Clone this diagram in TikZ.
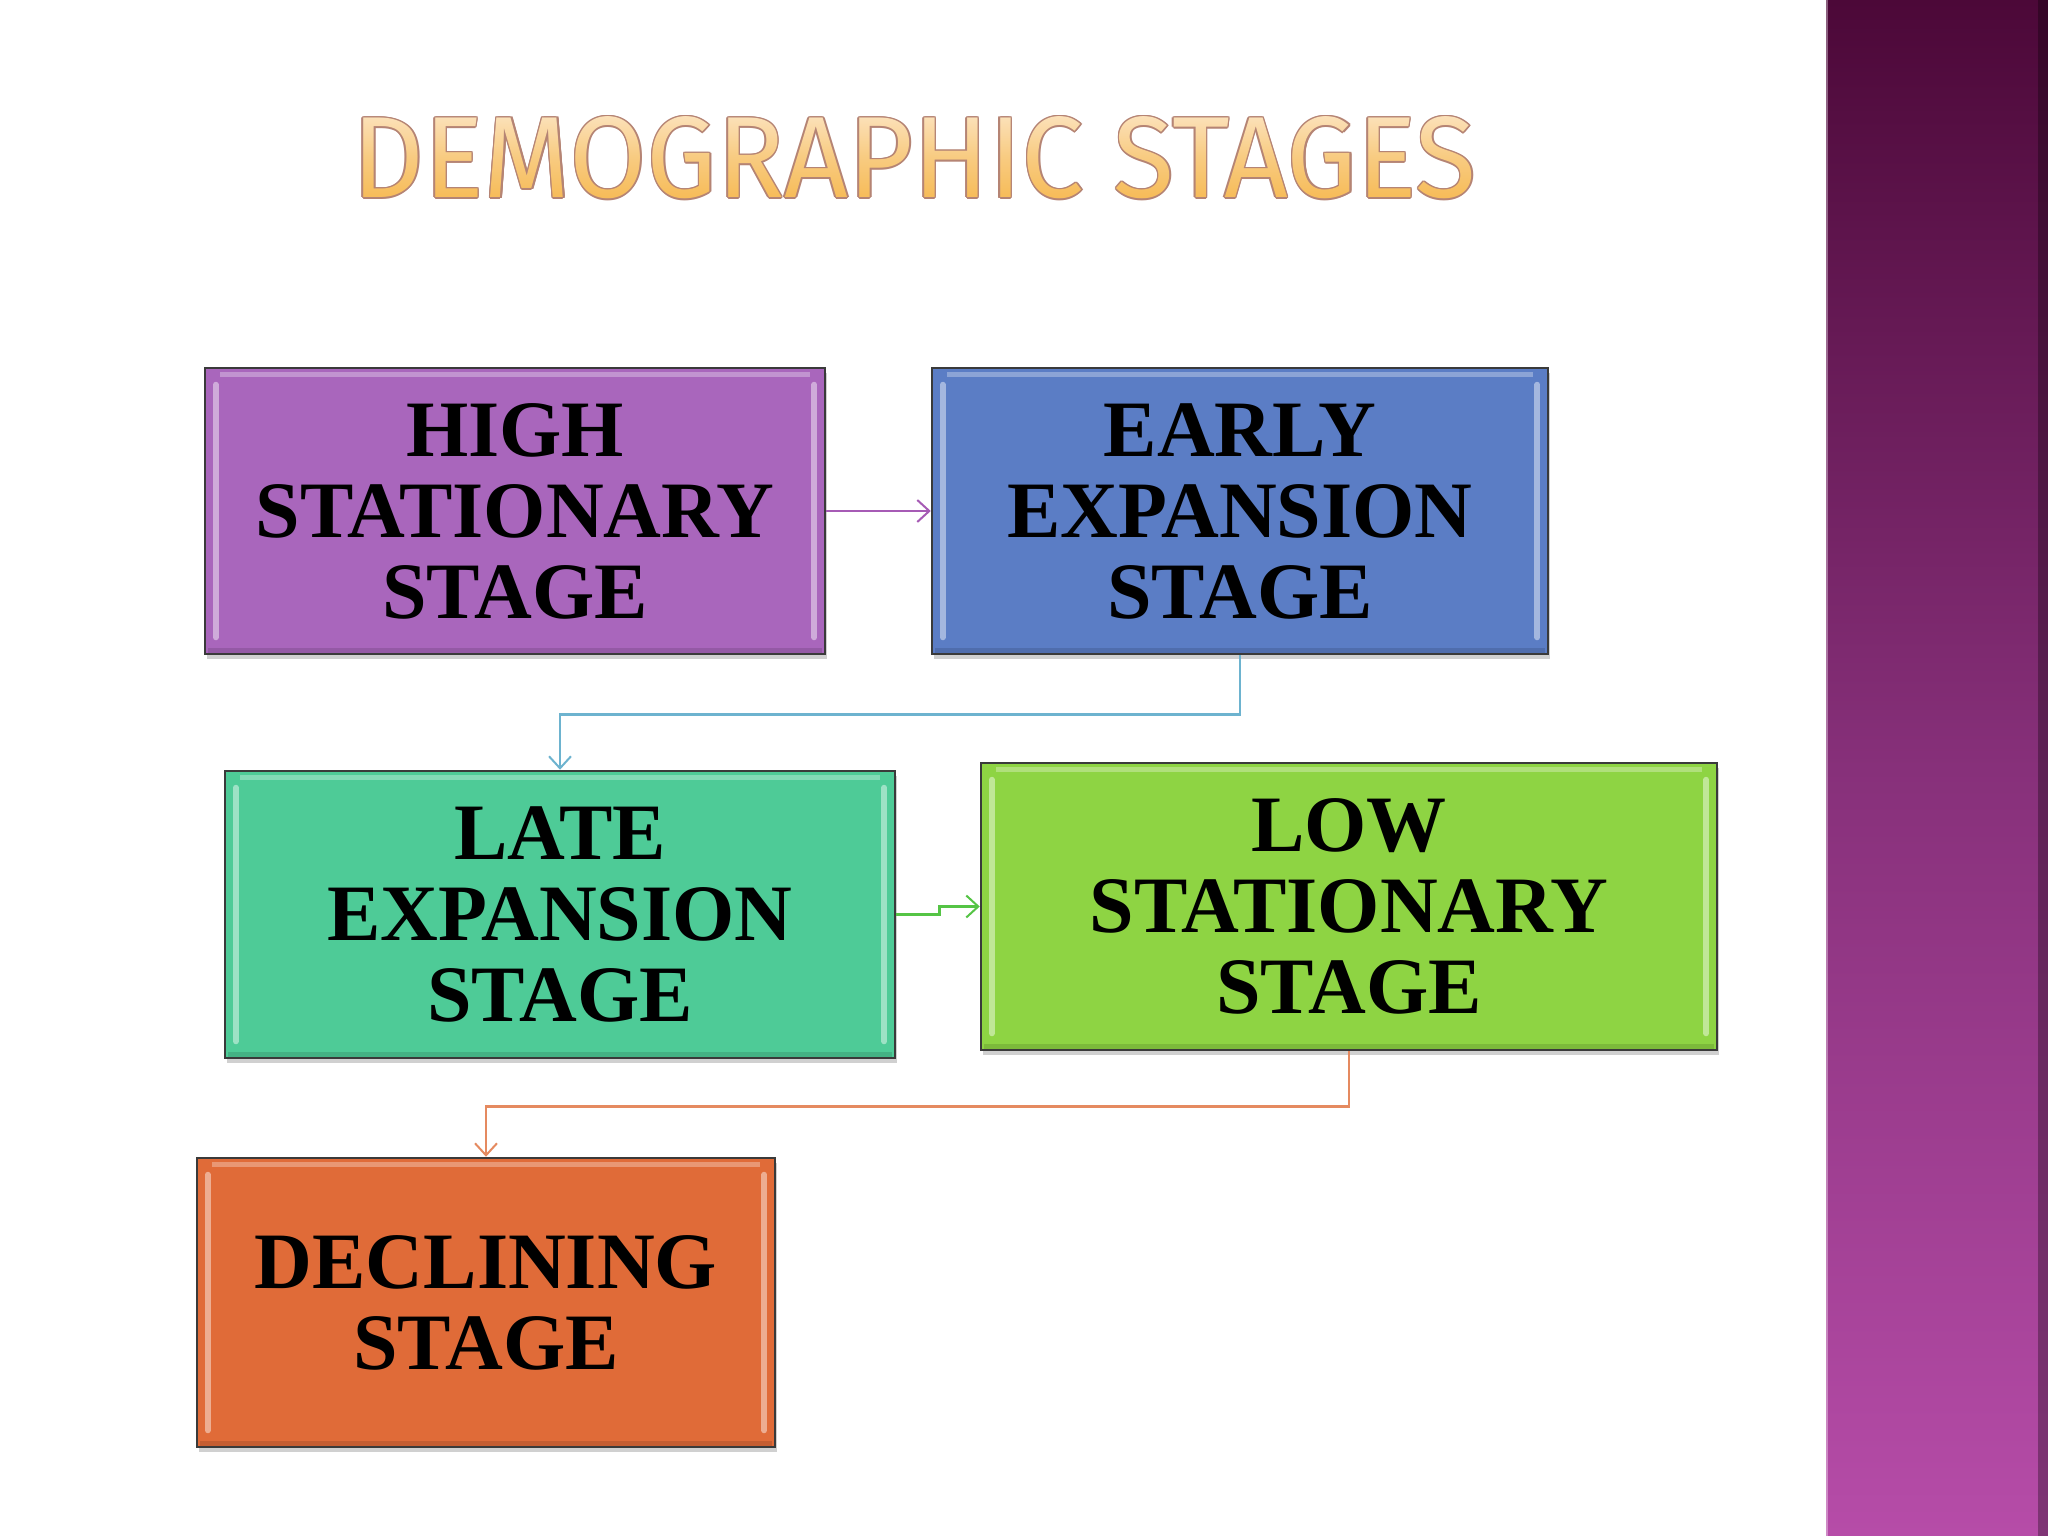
\documentclass[tikz,border=0pt]{standalone}
\usepackage{fontspec}
\setmainfont{Liberation Serif}
\newfontfamily\titlefont{Fira Sans}
\usetikzlibrary{arrows.meta,shadows,fadings,calc}
\definecolor{cHigh}{HTML}{A966BC}
\definecolor{cEarly}{HTML}{5B7DC5}
\definecolor{cLate}{HTML}{4ECB97}
\definecolor{cLow}{HTML}{8ED443}
\definecolor{cDecl}{HTML}{E06B38}
\definecolor{aHigh}{HTML}{A65BB5}
\definecolor{aEarly}{HTML}{6DB3CF}
\definecolor{aLate}{HTML}{55C445}
\definecolor{aLow}{HTML}{E58A60}
\definecolor{barTop}{HTML}{4C0838}
\definecolor{barMid}{HTML}{87307A}
\definecolor{barBot}{HTML}{B64CA8}
\definecolor{titleTop}{HTML}{FDE9CE}
\definecolor{titleMid}{HTML}{F8CB80}
\definecolor{titleBot}{HTML}{F6B548}
\definecolor{titleEdge}{HTML}{B58474}
\definecolor{boxEdge}{HTML}{3A3A3A}
\newcommand\titletext{\titlefont\resizebox{1123pt}{81pt}{DEMOGRAPHIC STAGES}}
\begin{tikzfadingfrompicture}[name=titlefade]
  \node[text=transparent!0, inner sep=0pt] {\titletext};
\end{tikzfadingfrompicture}
\tikzset{
  stagebox/.style={rectangle, draw=boxEdge, line width=2.5pt, inner sep=0pt,
    align=center, text=black,
    font=\fontsize{80}{81}\selectfont\bfseries,
    drop shadow={shadow xshift=2pt, shadow yshift=-5pt, opacity=0.3, fill=black!60}},
  flow/.style={line width=2.5pt, -{Straight Barb[length=12pt,width=22pt,line width=2pt]}},
  hilite/.style={white, opacity=0.45, line width=6pt, line cap=round},
}
\newcommand\bevel[1]{%
  \draw[hilite] ($(#1.north west)+(12,18)$) -- ($(#1.south west)+(12,-18)$);
  \draw[hilite] ($(#1.north east)+(-12,18)$) -- ($(#1.south east)+(-12,-18)$);
  \draw[white, opacity=0.3, line width=5pt] ($(#1.north west)+(16,8)$) -- ($(#1.north east)+(-16,8)$);
  \draw[black, opacity=0.12, line width=5pt] ($(#1.south west)+(4,-5)$) -- ($(#1.south east)+(-4,-5)$);
}
\begin{document}
\begin{tikzpicture}[x=1pt,y=-1pt]
  \useasboundingbox (0,0) rectangle (2048,1536);
  \fill[white] (0,0) rectangle (2048,1536);
  % right decorative bar
  \shade[top color=barTop, bottom color=barBot, middle color=barMid] (1826,0) rectangle (2048,1536);
  \shade[left color=black, right color=black, opacity=0.3] (2038,0) rectangle (2048,1536);
  \draw[white, opacity=0.35, line width=1.5pt] (1827,0) -- (1827,1536);
  % title
  \foreach \dx/\dy in {-1.6/0,1.6/0,0/-1.6,0/1.6,-1.1/-1.1,1.1/1.1,-1.1/1.1,1.1/-1.1}
    \node[text=titleEdge, inner sep=0pt] at (914.5+\dx,158+\dy) {\titletext};
  \shade[path fading=titlefade, fit fading=false, fading transform={shift={(914.5,158)}},
     top color=titleTop, bottom color=titleBot, middle color=titleMid]
     (330,100) rectangle (1500,215);
  \node[inner sep=0pt, text opacity=0] (title) at (914.5,158) {\titletext};
  % stage boxes
  \node[stagebox, fill=cHigh, minimum width=620pt, minimum height=286pt] (b1) at (515,511)
     {HIGH\\STATIONARY\\STAGE};
  \node[stagebox, fill=cEarly, minimum width=616pt, minimum height=286pt] (b2) at (1240,511)
     {EARLY\\EXPANSION\\STAGE};
  \node[stagebox, fill=cLate, minimum width=670pt, minimum height=287pt] (b3) at (560,914.5)
     {LATE\\EXPANSION\\STAGE};
  \node[stagebox, fill=cLow, minimum width=736pt, minimum height=287pt] (b4) at (1349,906.5)
     {LOW\\STATIONARY\\STAGE};
  \node[stagebox, fill=cDecl, minimum width=578pt, minimum height=289pt] (b5) at (486,1302.5)
     {DECLINING\\STAGE};
  \bevel{b1}\bevel{b2}\bevel{b3}\bevel{b4}\bevel{b5}
  % connectors
  \draw[flow, aHigh] (b1.east) -- (b2.west);
  \draw[flow, aEarly] (b2.south) -- ++(0,59) -| (b3.north);
  \draw[flow, aLate] (b3.east) -- ++(43,0) |- (b4.west);
  \draw[flow, aLow] (b4.south) -- ++(0,55) -| (b5.north);
\end{tikzpicture}
\end{document}
